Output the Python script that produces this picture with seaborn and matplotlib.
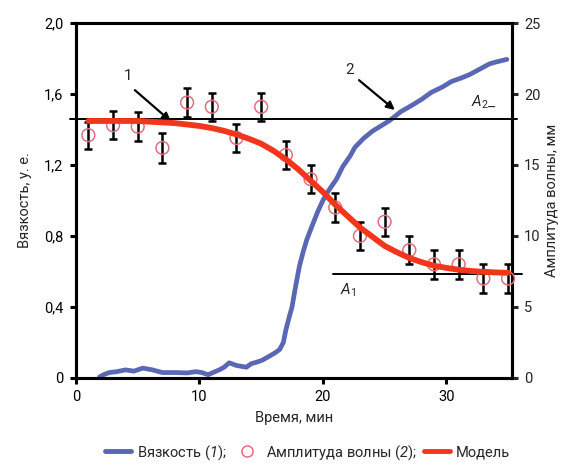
import matplotlib.pyplot as plt
import seaborn as sns
import numpy as np
import pandas as pd
from matplotlib.lines import Line2D

# ---------------------------------------------------------
# style
# ---------------------------------------------------------
sns.set_style("white")
plt.rcParams['font.family'] = ['Roboto', 'DejaVu Sans']
plt.rcParams['mathtext.fontset'] = 'custom'
plt.rcParams['mathtext.rm'] = 'Roboto'
plt.rcParams['mathtext.it'] = 'Roboto:italic'
plt.rcParams['mathtext.sf'] = 'Roboto:italic'   # italic digits in the legend
plt.rcParams['axes.linewidth'] = 2.2

blue = "#5a67b2"
red = "#f2361c"
pink = "#e0707e"

# ---------------------------------------------------------
# data
# ---------------------------------------------------------
# viscosity, left axis
visc_t = [1.9, 2.3, 2.7, 3.3, 4.0, 4.7, 5.4, 6.2, 7.0, 8.1, 9.0, 9.7, 10.2, 10.7,
          11.6, 12.0, 12.4, 13.0, 13.8, 14.2, 14.7, 15.1, 15.6, 16.1, 16.5, 16.8,
          17.0, 17.3, 17.5, 17.8, 18.1, 18.4, 18.7, 19.2, 19.6, 20.0, 20.5, 21.1,
          21.6, 22.2, 22.6, 23.3, 24.0, 24.7, 25.4, 26.3, 27.3, 28.0, 28.8, 29.7,
          30.4, 31.2, 31.9, 32.7, 33.5, 34.0, 34.6, 34.9]
visc_val = [0.005, 0.02, 0.03, 0.035, 0.045, 0.038, 0.055, 0.045, 0.03, 0.03, 0.028,
            0.035, 0.03, 0.018, 0.045, 0.06, 0.085, 0.07, 0.06, 0.08, 0.09, 0.10,
            0.12, 0.14, 0.16, 0.20, 0.27, 0.35, 0.40, 0.52, 0.63, 0.71, 0.78, 0.87,
            0.94, 1.00, 1.06, 1.12, 1.19, 1.25, 1.30, 1.35, 1.39, 1.42, 1.45, 1.50,
            1.54, 1.57, 1.61, 1.64, 1.67, 1.69, 1.71, 1.74, 1.77, 1.78, 1.79, 1.795]

# wave amplitude, right axis
amp_t = [1, 3, 5, 7, 9, 11, 13, 15, 17, 19, 21, 23, 25, 27, 29, 31, 33, 35]
amp_val = [17.1, 17.8, 17.7, 16.2, 19.4, 19.1, 16.9, 19.1, 15.7, 14.0, 12.0, 10.0,
           11.0, 9.0, 8.0, 8.0, 7.0, 7.0]
amp_err = [0.95, 1.0, 1.0, 1.05, 1.0, 1.0, 1.0, 1.0, 1.0, 1.0, 1.0, 1.0, 1.0, 1.0,
           1.0, 1.0, 1.0, 1.0]

# model curve, right axis
model_t = list(range(1, 36))
model_val = [18.1, 18.1, 18.1, 18.1, 18.1, 18.05, 18.0, 17.95, 17.85, 17.75, 17.6,
             17.4, 17.15, 16.85, 16.5, 16.0, 15.4, 14.7, 13.9, 13.1, 12.2, 11.4,
             10.6, 9.95, 9.3, 8.85, 8.45, 8.15, 7.9, 7.75, 7.62, 7.53, 7.47, 7.43, 7.4]

a2_level = 18.24
a1_level = 7.35

left_ticks = [0, 0.4, 0.8, 1.2, 1.6, 2.0]
left_labels = ["0", "0,4", "0,8", "1,2", "1,6", "2,0"]
right_ticks = [0, 5, 10, 15, 20, 25]
x_ticks = [0, 10, 20, 30]

visc_df = pd.DataFrame({"t": visc_t, "v": visc_val})
amp_df = pd.DataFrame({"t": amp_t, "a": amp_val, "e": amp_err})
model_df = pd.DataFrame({"t": model_t, "m": model_val})

# ---------------------------------------------------------
# figure
# ---------------------------------------------------------
fig = plt.figure(figsize=(5.63, 4.70), dpi=100)
ax = fig.add_axes([0.135, 0.196, 0.774, 0.755])
ax2 = ax.twinx()

sns.lineplot(data=visc_df, x="t", y="v", ax=ax, color=blue, lw=3.4, legend=False)

ax2.plot([-0.5, 35.7], [a2_level, a2_level], color="black", lw=1.4, clip_on=False, zorder=2)
ax2.plot([20.8, 36.1], [a1_level, a1_level], color="black", lw=1.4, clip_on=False, zorder=2)

ax2.errorbar(amp_df["t"], amp_df["a"], yerr=amp_df["e"], fmt="none", ecolor="black",
             elinewidth=1.8, capsize=3, capthick=1.8, zorder=3, clip_on=False)
sns.scatterplot(data=amp_df, x="t", y="a", ax=ax2, s=85, marker="o",
                facecolor="none", edgecolor=pink, linewidth=1.1, zorder=4, clip_on=False)
sns.lineplot(data=model_df, x="t", y="m", ax=ax2, color=red, lw=4.2, legend=False,
             zorder=5)

ax.set_xlim(0, 35.3)
ax.set_ylim(0, 2.0)
ax2.set_ylim(0, 25)
ax.set_xticks(x_ticks)
ax.set_yticks(left_ticks)
ax.set_yticklabels(left_labels)
ax2.set_yticks(right_ticks)

for a in (ax, ax2):
    for s in a.spines.values():
        s.set_linewidth(2.2)
        s.set_color("black")
ax.tick_params(axis="both", direction="out", length=4, width=2.2, labelsize=10.5,
               pad=5, colors="black")
ax.tick_params(axis="y", left=True, right=False)
ax.tick_params(axis="x", bottom=True)
ax2.tick_params(axis="y", direction="out", length=4, width=2.2, labelsize=10.5,
                pad=5, right=True)

ax.set_xlabel("Время, мин", fontsize=10.5, labelpad=5)
ax.set_ylabel("Вязкость, у. е.", fontsize=10.5, labelpad=9)
ax2.set_ylabel("Амплитуда волны, мм", fontsize=10.5, labelpad=3)

# annotations
ax2.annotate("", xy=(7.85, 17.95), xytext=(4.6, 20.4),
             arrowprops=dict(arrowstyle="-|>", color="black", lw=1.6, mutation_scale=12))
ax2.text(4.2, 21.3, "1", fontsize=11, ha="center", va="center")
ax2.annotate("", xy=(26.0, 18.75), xytext=(22.75, 21.1),
             arrowprops=dict(arrowstyle="-|>", color="black", lw=1.6, mutation_scale=12))
ax2.text(22.2, 21.7, "2", fontsize=11, ha="center", va="center")
ax2.text(33.0, 19.4, r"$\mathit{A}_{2}$_", fontsize=11, ha="center", va="center")
ax2.text(22.0, 6.2, r"$\mathit{A}_{1}$", fontsize=11, ha="center", va="center")

# legend
handles = [
    Line2D([], [], color=blue, lw=3.5),
    Line2D([], [], ls="none", marker="o", markersize=8, markerfacecolor="none",
           markeredgecolor=pink, markeredgewidth=1.1),
    Line2D([], [], color=red, lw=3.5),
]
labels = [r"Вязкость ($\mathsf{1}$);", r"Амплитуда волны ($\mathsf{2}$);", "Модель"]
fig.legend(handles, labels, loc="lower center", bbox_to_anchor=(0.546, -0.01), ncol=3,
           frameon=False, fontsize=10.5, handlelength=1.8, handletextpad=0.4,
           columnspacing=0.5)

fig.savefig("out.png", dpi=100)
